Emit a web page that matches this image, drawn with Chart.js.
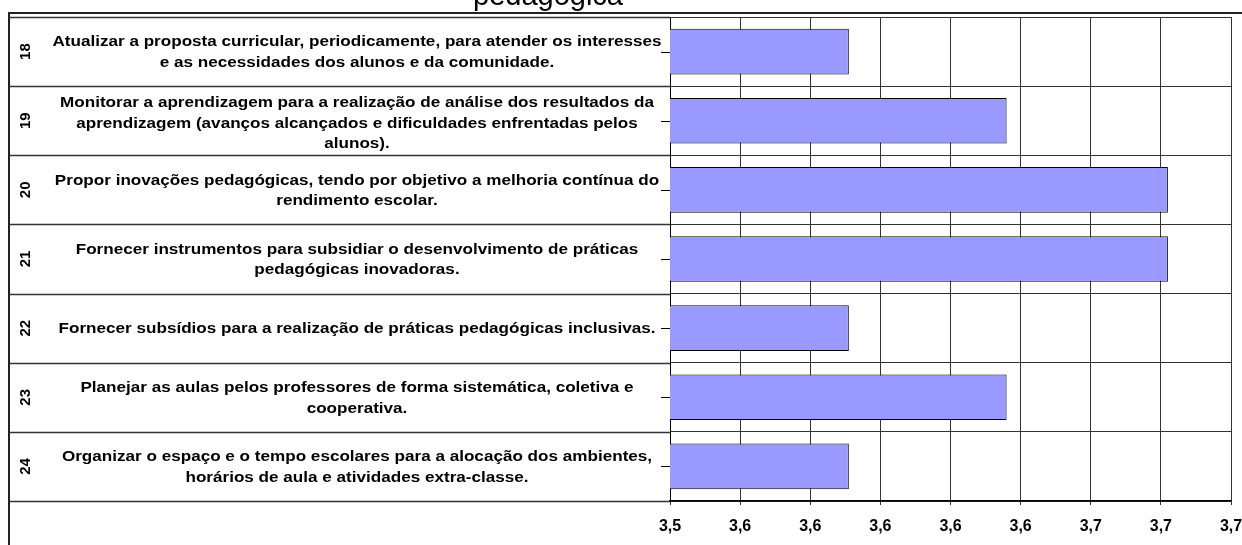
<!DOCTYPE html>
<html>
<head>
<meta charset="utf-8">
<script src="https://cdn.jsdelivr.net/npm/chart.js@4.4.1/dist/chart.umd.min.js"></script>
<style>
  html, body { margin: 0; padding: 0; background: #fff; }
  #wrap { width: 1242px; height: 545px; position: relative; }
</style>
</head>
<body>
<div id="wrap"><canvas id="chart" width="1242" height="545"></canvas></div>
<script>
// item numbers (rotated outer label) and the statement text (inner label, pre-wrapped)
const itemNumbers = ['18', '19', '20', '21', '22', '23', '24'];
const itemTexts = [
    ['Atualizar a proposta curricular, periodicamente, para atender os interesses', 'e as necessidades dos alunos e da comunidade.'],
    ['Monitorar a aprendizagem para a realização de análise dos resultados da', 'aprendizagem (avanços alcançados e dificuldades enfrentadas pelos', 'alunos).'],
    ['Propor inovações pedagógicas, tendo por objetivo a melhoria contínua do', 'rendimento escolar.'],
    ['Fornecer instrumentos para subsidiar o desenvolvimento de práticas', 'pedagógicas inovadoras.'],
    ['Fornecer subsídios para a realização de práticas pedagógicas inclusivas.'],
    ['Planejar as aulas pelos professores de forma sistemática, coletiva e', 'cooperativa.'],
    ['Organizar o espaço e o tempo escolares para a alocação dos ambientes,', 'horários de aula e atividades extra-classe.']
];
const averages = [3.591, 3.636, 3.682, 3.682, 3.591, 3.636, 3.591];
const tickLabels = ['3,5', '3,6', '3,6', '3,6', '3,6', '3,6', '3,7', '3,7', '3,7'];
const titleText = 'pedagógica';

const FONT = 'Arial, "Liberation Sans", sans-serif';

// draws the cropped title, outer frame and the two-level category table on the left
const tablePlugin = {
    id: 'labelTable',
    afterDraw: (chart) => {
        const ctx = chart.ctx;
        const area = chart.chartArea;
        const yScale = chart.scales.y;

        ctx.save();

        // title, only its lower part is visible
        ctx.fillStyle = '#000';
        ctx.font = '29px ' + FONT;
        ctx.textAlign = 'center';
        ctx.textBaseline = 'alphabetic';
        ctx.fillText(titleText, 548, 5);

        // outer frame
        ctx.strokeStyle = '#222';
        ctx.lineWidth = 2;
        ctx.beginPath();
        ctx.moveTo(9, 545);
        ctx.lineTo(9, 13);
        ctx.lineTo(1242, 13);
        ctx.stroke();

        // table row lines
        ctx.lineWidth = 1.5;
        ctx.strokeStyle = '#333';
        for (let i = 0; i <= itemNumbers.length; i++) {
            const y = Math.round(yScale.getPixelForValue(i - 0.5)) + 0.5;
            ctx.beginPath();
            ctx.moveTo(9, y);
            ctx.lineTo(area.left, y);
            ctx.stroke();
        }

        // small tick marks at category centres
        ctx.lineWidth = 1;
        ctx.strokeStyle = '#000';
        itemNumbers.forEach((n, i) => {
            const y = Math.round(yScale.getPixelForValue(i)) + 0.5;
            ctx.beginPath();
            ctx.moveTo(area.left - 9, y);
            ctx.lineTo(area.left, y);
            ctx.stroke();
        });

        // labels (text is stretched a little to match the original's wide rendering)
        ctx.fillStyle = '#000';
        itemNumbers.forEach((n, i) => {
            const yc = yScale.getPixelForValue(i);

            ctx.save();
            ctx.translate(26, yc);
            ctx.rotate(-Math.PI / 2);
            ctx.font = 'bold 15px ' + FONT;
            ctx.textAlign = 'center';
            ctx.textBaseline = 'middle';
            ctx.fillText(n, 0, 0);
            ctx.restore();

            const lines = itemTexts[i];
            const lh = 20.5;
            const shift = lines.length > 2 ? 3 : 1;
            ctx.save();
            ctx.translate(357, 0);
            ctx.scale(1.14, 1);
            ctx.font = 'bold 15px ' + FONT;
            ctx.textAlign = 'center';
            ctx.textBaseline = 'middle';
            lines.forEach((line, k) => {
                const y = yc + (k - (lines.length - 1) / 2) * lh + shift;
                ctx.fillText(line, 0, y);
            });
            ctx.restore();
        });

        ctx.restore();
    }
};

new Chart(document.getElementById('chart'), {
    type: 'bar',
    data: {
        labels: itemNumbers,
        datasets: [{
            data: averages,
            backgroundColor: '#9999ff',
            borderColor: '#000',
            borderWidth: 1,
            categoryPercentage: 1,
            barPercentage: 0.66,
        }]
    },
    options: {
        indexAxis: 'y',
        responsive: false,
        animation: false,
        devicePixelRatio: 1,
        layout: { padding: { left: 0, top: 17, right: 11, bottom: 0 } },
        plugins: {
            legend: { display: false },
            tooltip: { enabled: false },
        },
        scales: {
            x: {
                min: 3.54,
                max: 3.70,
                afterFit: (s) => { s.height = 44; s.paddingRight = 0; s.paddingLeft = 0; },
                ticks: {
                    stepSize: 0.02,
                    color: '#000',
                    padding: 12,
                    font: { family: FONT, size: 16, weight: 'bold' },
                    callback: (v, i) => tickLabels[i],
                },
                grid: { color: '#333', lineWidth: 1, tickLength: 4 },
                border: { color: '#000', width: 1.5 },
            },
            y: {
                afterFit: (s) => { s.width = 670; },
                ticks: { display: false },
                grid: { color: '#333', lineWidth: 1, offset: true, drawTicks: false },
                border: { color: '#000', width: 1 },
            }
        }
    },
    plugins: [tablePlugin],
});
</script>
</body>
</html>
